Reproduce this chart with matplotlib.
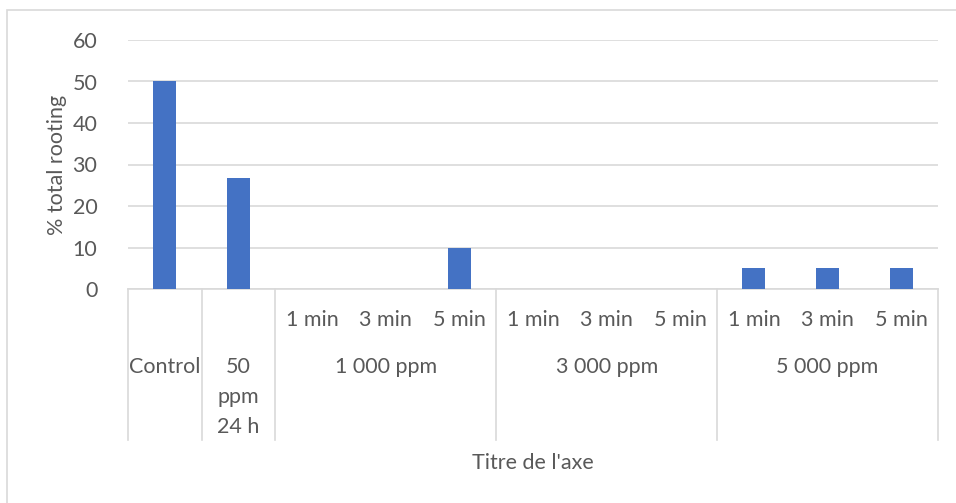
import matplotlib.pyplot as plt
from matplotlib import transforms
from matplotlib.patches import Rectangle

plt.rcParams['font.family'] = ['Lato', 'DejaVu Sans']

# treatment groups and their sub-categories (exposure time)
groups = ["Control", "50\nppm\n24 h", "1 000 ppm", "3 000 ppm", "5 000 ppm"]
group_sizes = [1, 1, 3, 3, 3]
times = ["1 min", "3 min", "5 min"]
rooting = [50, 26.67, 0, 0, 10, 0, 0, 0, 5, 5, 5]

W, H = 956, 503
txt = '#595959'
grid = '#D9D9D9'
fs = 15.5

fig = plt.figure(figsize=(W / 100, H / 100), dpi=100)
# chart frame
fig.patches.append(Rectangle((7 / W, -0.1), 1.2, 1 - 10 / H + 0.1, transform=fig.transFigure,
                             fill=False, edgecolor=grid, linewidth=1.2))

ax = fig.add_axes([128 / W, 1 - 289 / H, 810 / W, 249 / H])
x = list(range(len(rooting)))
ax.bar(x, rooting, width=0.31, color='#4472C4', zorder=3)
ax.set_xlim(-0.5, len(rooting) - 0.5)
ax.set_ylim(0, 60)
ax.set_yticks(range(0, 61, 10))
ax.grid(axis='y', color=grid, linewidth=1.2, zorder=0)
for s in ['top', 'right', 'left']:
    ax.spines[s].set_visible(False)
ax.spines['bottom'].set_color(grid)
ax.spines['bottom'].set_linewidth(1.2)
ax.tick_params(axis='y', length=0, labelsize=fs, labelcolor=txt, pad=22)
ax.tick_params(axis='x', length=0, labelbottom=False)
ax.set_ylabel('% total rooting', fontsize=fs, color=txt, labelpad=4)

# multi-level category axis
blend = transforms.blended_transform_factory(ax.transData, fig.transFigure)
def py(p):
    return 1 - p / H

pos = 0
edges = [-0.5]
for g, n in zip(groups, group_sizes):
    center = pos + (n - 1) / 2
    if n > 1:
        for k in range(n):
            ax.text(pos + k, py(320), times[k], transform=blend, ha='center', va='center',
                    fontsize=fs, color=txt)
    for i, line in enumerate(g.split('\n')):
        ax.text(center, py(367 + 30 * i), line, transform=blend, ha='center', va='center',
                fontsize=fs, color=txt)
    pos += n
    edges.append(pos - 0.5)

for e in edges:
    ax.plot([e, e], [py(289), py(440)], transform=blend, color=grid, linewidth=1.2,
            clip_on=False)

fig.text((128 + 938) / 2 / W, py(463), "Titre de l'axe", ha='center', va='center',
         fontsize=fs, color=txt)

fig.savefig('out.png', dpi=100)
